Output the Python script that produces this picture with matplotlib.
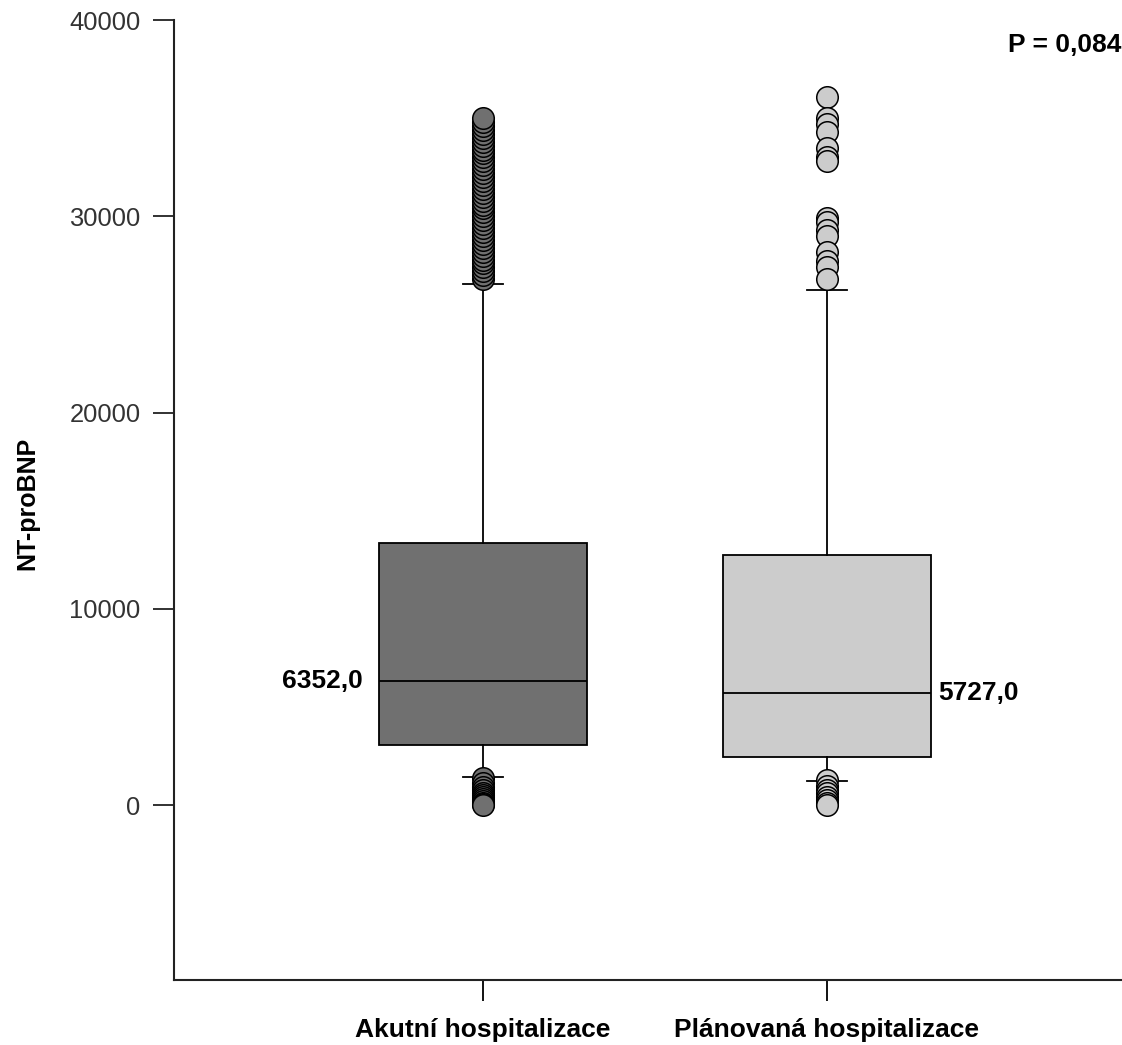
import matplotlib
matplotlib.use("Agg")
import matplotlib.pyplot as plt

plt.rcParams['font.family'] = ['Liberation Sans', 'DejaVu Sans']

# data
groups = ['Akutní hospitalizace', 'Plánovaná hospitalizace']
medians = [6352.0, 5727.0]
q1 = [3060, 2450]
q3 = [13370, 12760]
whisker_lo = [1430, 1220]
whisker_hi = [26530, 26230]
median_labels = ['6352,0', '5727,0']
p_text = 'P = 0,084'

fliers_acute = [26800, 27000, 27200, 27400, 27600, 27800, 28000, 28200, 28400,
                28600, 28800, 29000, 29200, 29400, 29600, 29800, 30000, 30200,
                30400, 30600, 30800, 31000, 31200, 31400, 31600, 31800, 32000,
                32200, 32400, 32600, 32800, 33000, 33200, 33400, 33600, 33800,
                34000, 34200, 34400, 34600, 34800, 35000,
                1400, 1150, 950, 800, 650, 500, 400, 300, 200, 120, 60, 0]
fliers_planned = [36100, 35000, 34700, 34300, 33500, 33000, 32800,
                  29900, 29700, 29300, 29000, 28200, 27700, 27400, 26800,
                  1300, 1000, 800, 600, 400, 250, 100, 0]

colors = ['#707070', '#cccccc']
yticks = [0, 10000, 20000, 30000, 40000]

fig = plt.figure(figsize=(11.22, 10.45), dpi=100)
ax = fig.add_axes([174 / 1122, 1 - 980 / 1045, 948 / 1122, 960 / 1045])

stats = []
for i, name in enumerate(groups):
    stats.append(dict(label=name, med=medians[i], q1=q1[i], q3=q3[i],
                      whislo=whisker_lo[i], whishi=whisker_hi[i],
                      fliers=[fliers_acute, fliers_planned][i]))

for i, s in enumerate(stats):
    ax.bxp([s], positions=[i + 1], widths=0.607, patch_artist=True,
           showfliers=True,
           boxprops=dict(facecolor=colors[i], edgecolor='black', linewidth=1.3),
           medianprops=dict(color='black', linewidth=1.3),
           whiskerprops=dict(color='black', linewidth=1.3),
           capprops=dict(color='black', linewidth=1.3),
           capwidths=0.116,
           flierprops=dict(marker='o', markersize=15.5, markerfacecolor=colors[i],
                           markeredgecolor='black', markeredgewidth=1.1))

ax.set_ylim(-8900, 40000)
ax.set_xlim(0.1017, 2.8576)
ax.set_yticks(yticks)
ax.set_yticklabels([str(v) for v in yticks])
ax.set_xticks([1, 2])
ax.set_xticklabels(groups, fontweight='bold', fontsize=19)
ax.tick_params(axis='y', direction='out', length=15, width=1.3, labelsize=18.4,
               pad=9, colors='#222222', labelcolor='#333333')
ax.tick_params(axis='x', direction='out', length=15, width=1.3, pad=12)
for side in ['top', 'right']:
    ax.spines[side].set_visible(False)
for side in ['left', 'bottom']:
    ax.spines[side].set_linewidth(1.5)
    ax.spines[side].set_color('#222222')

ax.text(0.651, medians[0], median_labels[0], ha='right', va='center',
        fontsize=19, fontweight='bold')
ax.text(2.323, medians[1], median_labels[1], ha='left', va='center',
        fontsize=19, fontweight='bold')

fig.text(0.999, 1 - 45 / 1045, p_text, ha='right', va='center',
         fontsize=19, fontweight='bold')
fig.text(27 / 1122, 1 - 503 / 1045, 'NT-proBNP', rotation=90, ha='center',
         va='center', fontsize=18, fontweight='bold')

fig.savefig('out.png', dpi=100)
